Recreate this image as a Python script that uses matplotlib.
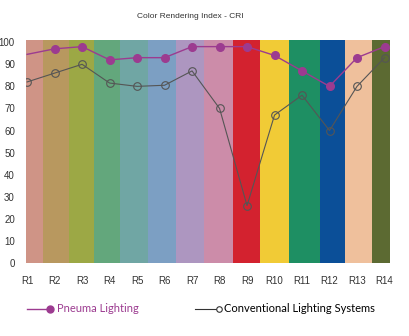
import numpy as np
import matplotlib
matplotlib.use('Agg')
import matplotlib.pyplot as plt
from matplotlib.lines import Line2D

# dane
etykiety = ['R1', 'R2', 'R3', 'R4', 'R5', 'R6', 'R7', 'R8', 'R9', 'R10', 'R11', 'R12', 'R13', 'R14']
pneuma = [94.5, 97, 98, 92, 93, 93, 98, 98, 98, 94, 87, 80, 93, 98]
konwencjonalne = [82, 86, 90, 81.5, 80, 80.5, 87, 70, 26, 67, 76, 60, 80, 93]
kolory_pasow = ['#cf9486', '#b8985f', '#9ca845', '#63a77c', '#70a6a4', '#7c9fc3',
                '#ad96c0', '#cc8ca9', '#d3222f', '#f1cb36', '#1e8f63', '#0b4f98',
                '#efc09c', '#5c6a32']
granice_pasow = [-0.04, 0.58, 1.53, 2.44, 3.38, 4.4, 5.42, 6.44, 7.49, 8.47, 9.53, 10.65, 11.56, 12.55, 13.2]

fioletowy = '#9c3b90'
szary = '#555555'

fig = plt.figure(figsize=(4.09, 3.36), dpi=100)
ax = fig.add_axes([26/409, 73/336, 364/409, 223/336])

x = np.arange(len(etykiety))

for i, kol in enumerate(kolory_pasow):
    ax.axvspan(granice_pasow[i], granice_pasow[i + 1], color=kol, lw=0, zorder=0)

ax.plot(x, konwencjonalne, color=szary, lw=0.8, marker='o', ms=5.5,
        mfc='none', mec=szary, mew=0.8, zorder=3)
ax.plot(x, pneuma, color=fioletowy, lw=1.0, marker='o', ms=5.5,
        mfc=fioletowy, mec=fioletowy, markevery=list(range(1, 14)), zorder=4)

ax.set_xlim(granice_pasow[0], granice_pasow[-1])
ax.set_ylim(0, 101)
ax.set_yticks(range(0, 101, 10))
ax.set_xticks(x)
ax.set_xticklabels(etykiety)
for s in ax.spines.values():
    s.set_visible(False)
ax.tick_params(length=0, labelsize=7, colors='#333333')
ax.tick_params(axis='x', pad=9)
ax.tick_params(axis='y', pad=8)
for t in ax.get_xticklabels() + ax.get_yticklabels():
    t.set_family('Liberation Sans')

fig.text(190/409, 1 - 17/336, 'Color Rendering Index - CRI', ha='center', va='center',
         fontsize=6, family='Liberation Sans', color='#333333')

# legenda
yl = 1 - 309/336
fig.add_artist(Line2D([27/409, 50/409], [yl, yl], color=fioletowy, lw=1.0))
fig.add_artist(Line2D([50/409], [yl], color=fioletowy, marker='o', ms=5))
fig.text(57/409, yl, 'Pneuma Lighting', color=fioletowy, fontsize=8,
         family='Lato', va='center')
fig.add_artist(Line2D([195/409, 217/409], [yl, yl], color='#333333', lw=0.8))
fig.add_artist(Line2D([219/409], [yl], color='#333333', marker='o', ms=4,
                      mfc='white', mew=0.8))
fig.text(224/409, yl, 'Conventional Lighting Systems', color='black', fontsize=8,
         family='Lato', va='center')

fig.savefig('out.png', dpi=100)
